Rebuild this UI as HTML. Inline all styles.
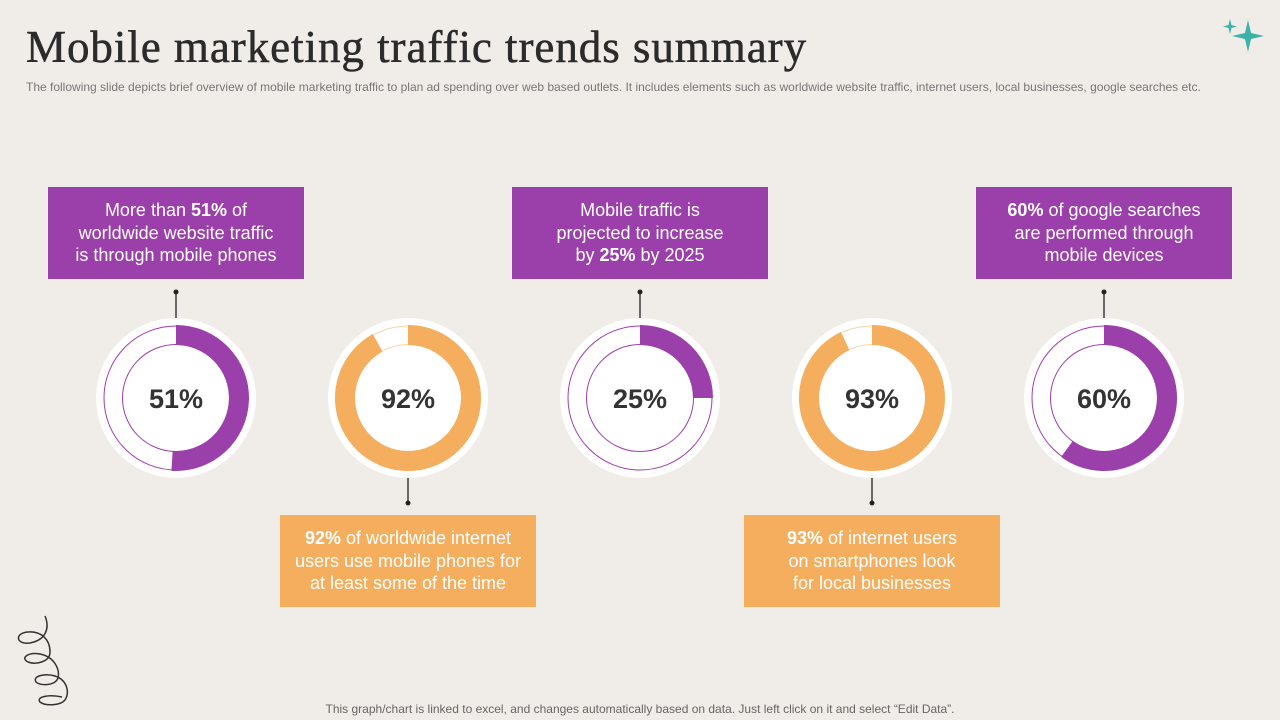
<!DOCTYPE html>
<html><head><meta charset="utf-8">
<style>
body{margin:0;width:1280px;height:720px;background:#f0ede8;font-family:"Liberation Sans",sans-serif;position:relative;overflow:hidden}
h1{position:absolute;left:26px;top:21px;margin:0;font-family:"Liberation Serif",serif;font-weight:normal;font-size:45px;color:#2b2b2b;letter-spacing:0.95px;-webkit-text-stroke:0.5px #2b2b2b}
.sub{position:absolute;left:26px;top:80px;font-size:12px;letter-spacing:0px;color:#777}
.box{position:absolute;width:256px;height:92px;color:#fff;font-size:18px;line-height:22.5px;text-align:center;display:flex;align-items:center;justify-content:center}
.p{background:#9b3fab}.o{background:#f4ae5e}
.foot{position:absolute;top:702px;left:0;width:1280px;text-align:center;font-size:12px;color:#666}
svg{position:absolute;left:0;top:0}
</style></head><body>
<h1>Mobile marketing traffic trends summary</h1>
<div class="sub">The following slide depicts brief overview of mobile marketing traffic to plan ad spending over web based outlets. It includes elements such as worldwide website traffic, internet users, local businesses, google searches etc.</div>
<svg id="chart" width="1280" height="720">
<path d="M45 616 C50 628,46 640,30 643 C16 645,14 633,28 632 C42 631,50 640,50 652 C50 662,36 665,28 662 C20 658,28 652,40 654 C55 657,60 670,58 678 C55 686,40 686,36 682 C32 676,45 673,55 676 C67 680,70 692,65 700 C60 706,45 706,40 702 C36 697,48 694,62 697" fill="none" stroke="#333" stroke-width="1.5"/>
<g fill="#3bb3a8">
<path d="M1248 20 L1251 33 L1264 36 L1251 39 L1248 52 L1245 39 L1232 36 L1245 33Z"/>
<path d="M1230 19 L1231.5 25 L1237 26.5 L1231.5 28 L1230 34 L1228.5 28 L1223 26.5 L1228.5 25Z"/>
</g>
</svg>
<div class="box p" style="left:48px;top:187px"><div>More than <b>51%</b> of<br>worldwide website traffic<br>is through mobile phones</div></div>
<div class="box o" style="left:280px;top:515px"><div><b>92%</b> of worldwide internet<br>users use mobile phones for<br>at least some of the time</div></div>
<div class="box p" style="left:512px;top:187px"><div>Mobile traffic is<br>projected to increase<br>by <b>25%</b> by 2025</div></div>
<div class="box o" style="left:744px;top:515px"><div><b>93%</b> of internet users<br>on smartphones look<br>for local businesses</div></div>
<div class="box p" style="left:976px;top:187px"><div><b>60%</b> of google searches<br>are performed through<br>mobile devices</div></div>
<div class="foot">This graph/chart is linked to excel,  and changes automatically based on data. Just left click on it and select “Edit Data”.</div>
<script>
const categories=["Website traffic","Internet users","Traffic increase","Local businesses","Google searches"];
const values=[51,92,25,93,60];
const colors=["#9b3fab","#f4ae5e","#9b3fab","#f4ae5e","#9b3fab"];
const svg=document.getElementById('chart');
const NS='http://www.w3.org/2000/svg';
const cy=398,R=80,ro=73,ri=53;
function cxOf(i){return 176+i*232;}
function angle(v){return v/100*2*Math.PI;}
function mk(t,a){const e=document.createElementNS(NS,t);for(const k in a)e.setAttribute(k,a[k]);svg.appendChild(e);return e;}
values.forEach((v,i)=>{
  const cx=cxOf(i),col=colors[i],top=i%2===0;
  const ln=mk('line',{x1:cx,x2:cx,y1:top?292:478,y2:top?318:503,stroke:'#222','stroke-width':1.3});
  
  
  const dot=mk('circle',{cx:cx,cy:top?292:503,r:2.5,fill:'#222'});
  
  
  const bg=mk('circle',{cx:cx,cy:cy,r:R,fill:'#fff'});
  
  
  const thin=col==='#9b3fab'?col:'#f7d5ad';
  const o1=mk('circle',{cx:cx,cy:cy,r:ro-1,fill:'none',stroke:thin,'stroke-width':1});
  
  
  const o2=mk('circle',{cx:cx,cy:cy,r:ri+0.5,fill:'none',stroke:thin,'stroke-width':1});
  
  
  const a=angle(v),la=a>Math.PI?1:0;
  const p=(r,t)=>[cx+r*Math.sin(t),cy-r*Math.cos(t)];
  const [x1,y1]=p(ro,0),[x2,y2]=p(ro,a),[x3,y3]=p(ri,a),[x4,y4]=p(ri,0);
  const arc=mk('path',{d:`M${x1} ${y1} A${ro} ${ro} 0 ${la} 1 ${x2} ${y2} L${x3} ${y3} A${ri} ${ri} 0 ${la} 0 ${x4} ${y4}Z`,fill:col});
  
  
  const tx=mk('text',{x:cx,y:cy+10,'text-anchor':'middle','font-size':27,'font-weight':'bold',fill:'#333','font-family':'Liberation Sans, sans-serif'});
  tx.textContent=v+'%';
  
  
});
</script>
</body></html>
